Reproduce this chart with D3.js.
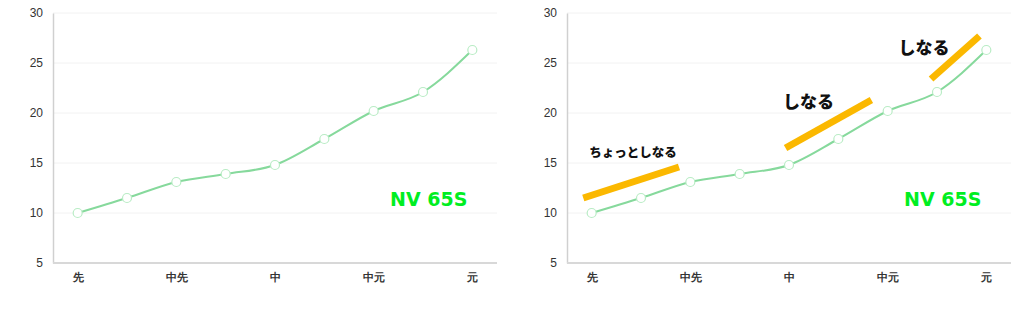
<!DOCTYPE html>
<html>
<head>
<meta charset="utf-8">
<script src="https://cdn.jsdelivr.net/npm/d3@7"></script>
<style>
  html, body { margin: 0; padding: 0; background: #fff; }
  #wrap { width: 1024px; height: 317px; position: relative; }
  svg { display: block; position: absolute; top: 0; }
  .tick text { font-family: "Liberation Sans", Arial, sans-serif; }
</style>
</head>
<body>
<div id="wrap"></div>
<script>
// ---- data ----------------------------------------------------------------
var categories = ['p0', 'p1', 'p2', 'p3', 'p4', 'p5', 'p6', 'p7', 'p8'];
var tickLabels = { p0: '先', p2: '中先', p4: '中', p6: '中元', p8: '元' };
var values = [10.0, 11.5, 13.1, 13.9, 14.8, 17.4, 20.2, 22.1, 26.3];
var yTicks = [5, 10, 15, 20, 25, 30];

// orange "bend" markers (right chart): category index + value at each end
var bendStart = [[-0.17, 11.5], [3.93, 16.5], [6.88, 23.4]];
var bendEnd   = [[1.77, 14.6], [5.67, 21.3], [7.86, 27.7]];
var bendLabels = ['ちょっとしなる', 'しなる', 'しなる'];
var bendLabelAt = [[-0.05, 16.2], [3.88, 21.3], [6.22, 26.7]];
var bendLabelSize = [12.5, 17, 17];

var modelName = 'NV 65S';

// ---- chart ---------------------------------------------------------------
var W = 512, H = 317;
var M = { top: 13, right: 15, bottom: 54, left: 53 };

function drawChart(left, withBends) {
  var svg = d3.select('#wrap').append('svg')
    .attr('width', W).attr('height', H).style('left', left + 'px');
  var x = d3.scalePoint().domain(categories).range([M.left, W - M.right]).padding(0.5);
  var y = d3.scaleLinear().domain([5, 30]).range([H - M.bottom, M.top]);
  var xi = d3.scaleLinear().domain([0, categories.length - 1])
    .range([x(categories[0]), x(categories[categories.length - 1])]);

  // grid
  svg.append('g').selectAll('line').data(yTicks.slice(1)).join('line')
    .attr('x1', M.left).attr('x2', W - M.right)
    .attr('y1', function(d) { return y(d); }).attr('y2', function(d) { return y(d); })
    .attr('stroke', '#f2f2f2').attr('stroke-width', 1);

  // y axis
  var gy = svg.append('g').attr('transform', 'translate(' + M.left + ',0)')
    .call(d3.axisLeft(y).tickValues(yTicks).tickSize(0).tickPadding(10));
  gy.select('.domain').attr('stroke', '#d0d0d0').attr('stroke-width', 1.5);
  gy.selectAll('.tick text').attr('font-size', 12).attr('fill', '#333');

  // x axis
  var gx = svg.append('g').attr('transform', 'translate(0,' + (H - M.bottom) + ')')
    .call(d3.axisBottom(x).tickSize(0).tickPadding(10)
      .tickFormat(function(d) { return tickLabels[d] || ''; }));
  gx.select('.domain').attr('stroke', '#d8d8d8').attr('stroke-width', 2)
    .attr('d', 'M' + M.left + ',0H' + (W - M.right));
  gx.selectAll('.tick text').attr('font-size', 11).attr('font-weight', 'bold')
    .attr('fill', '#333').attr('font-family', '"Noto Sans CJK JP", sans-serif');

  // orange bends
  if (withBends) {
    svg.append('g').selectAll('line').data(bendStart).join('line')
      .attr('x1', function(d) { return xi(d[0]); })
      .attr('y1', function(d) { return y(d[1]); })
      .attr('x2', function(d, i) { return xi(bendEnd[i][0]); })
      .attr('y2', function(d, i) { return y(bendEnd[i][1]); })
      .attr('stroke', '#fbb800').attr('stroke-width', 7);

    svg.append('g').selectAll('text').data(bendLabels).join('text')
      .attr('x', function(d, i) { return xi(bendLabelAt[i][0]); })
      .attr('y', function(d, i) { return y(bendLabelAt[i][1]); })
      .attr('dominant-baseline', 'central')
      .attr('font-family', '"Noto Sans CJK JP", sans-serif')
      .attr('font-weight', 900)
      .attr('font-size', function(d, i) { return bendLabelSize[i]; })
      .attr('fill', '#111')
      .text(function(d) { return d; });
  }

  // line
  var line = d3.line()
    .x(function(d, i) { return x(categories[i]); })
    .y(function(d) { return y(d); })
    .curve(d3.curveMonotoneX);
  svg.append('path').datum(values)
    .attr('d', line).attr('fill', 'none')
    .attr('stroke', '#86d99c').attr('stroke-width', 2);

  svg.append('g').selectAll('circle').data(values).join('circle')
    .attr('cx', function(d, i) { return x(categories[i]); })
    .attr('cy', function(d) { return y(d); })
    .attr('r', 4.5)
    .attr('fill', '#fff').attr('stroke', '#b9ecc5').attr('stroke-width', 1.2);

  // model label
  svg.append('text')
    .attr('x', xi(7.9)).attr('y', y(11.4))
    .attr('text-anchor', 'end')
    .attr('dominant-baseline', 'central')
    .attr('font-family', '"DejaVu Sans", sans-serif')
    .attr('font-weight', 'bold').attr('font-size', 19)
    .attr('fill', '#00ee22')
    .text(modelName);
}

drawChart(0, false);
drawChart(514, true);
</script>
</body>
</html>
